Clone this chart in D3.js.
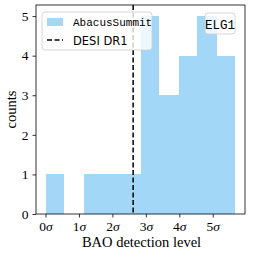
<!DOCTYPE html>
<html><head><meta charset="utf-8">
<script src="https://cdn.jsdelivr.net/npm/d3@7"></script>
<style>body{margin:0;background:#fff}svg{display:block}</style>
</head><body><svg id="c" width="253" height="257"></svg>
<script>
const binEdges = [0,0.568,1.136,1.704,2.272,2.84,3.408,3.976,4.544,5.112,5.68];
const counts = [1,0,1,1,1,5,3,4,5,4];
const desiDR1 = 2.62;
const xTicks = [0,1,2,3,4,5];
const yTicks = [0,1,2,3,4,5];
const seriesLabel = "AbacusSummit";
const lineLabel = "DESI DR1";
const tracer = "ELG1";

const svg = d3.select("#c");
const L=36,R=245,T=5,B=214;
const x = d3.scaleLinear().domain([-0.284,5.964]).range([L,R]);
const y = d3.scaleLinear().domain([0,5.28]).range([B,T]);
const serif = "'Liberation Serif','DejaVu Serif',serif";
const mono = "'Liberation Mono','DejaVu Sans Mono',monospace";
const barColor = "#a3d7f8";

svg.append("g").attr("shape-rendering","crispEdges").selectAll("rect").data(counts).join("rect")
  .attr("x",(d,i)=>Math.round(x(binEdges[i]))).attr("width",(d,i)=>Math.round(x(binEdges[i+1]))-Math.round(x(binEdges[i])))
  .attr("y",d=>y(d)).attr("height",d=>y(0)-y(d)).attr("fill",barColor);

svg.append("line").attr("x1",x(desiDR1)).attr("x2",x(desiDR1)).attr("y1",T).attr("y2",B)
  .attr("stroke","#000").attr("stroke-width",1.5).attr("stroke-dasharray","5,2.5");

const xa = svg.append("g").attr("transform",`translate(0,${B})`)
  .call(d3.axisBottom(x).tickValues(xTicks).tickSize(3.5).tickPadding(4).tickFormat(d=>d+"σ"));
const ya = svg.append("g").attr("transform",`translate(${L},0)`)
  .call(d3.axisLeft(y).tickValues(yTicks).tickSize(3.5).tickPadding(4).tickFormat(d3.format("d")));
[xa,ya].forEach(a=>{a.select(".domain").remove();a.selectAll("line").attr("stroke","#000").attr("stroke-width",0.8);
  a.selectAll("text").attr("font-family",serif).attr("font-size",13.5).attr("fill","#000");});
xa.selectAll("text").each(function(){const t=d3.select(this);const s=t.text();t.text(s.replace("σ",""));t.append("tspan").attr("font-style","italic").text("σ");});

svg.append("rect").attr("x",L).attr("y",T).attr("width",R-L).attr("height",B-T)
  .attr("fill","none").attr("stroke","#000").attr("stroke-width",0.8);

svg.append("text").attr("x",(L+R)/2+1).attr("y",247).attr("text-anchor","middle")
  .attr("font-family",serif).attr("font-size",14.5).text("BAO detection level");
svg.append("text").attr("transform",`translate(16,${(T+B)/2}) rotate(-90)`).attr("text-anchor","middle")
  .attr("font-family",serif).attr("font-size",14.5).text("counts");

// legend
const lg = svg.append("g");
lg.append("rect").attr("x",42).attr("y",12).attr("width",110).attr("height",38).attr("rx",3)
  .attr("fill","#fff").attr("fill-opacity",0.8).attr("stroke","#ccc").attr("stroke-width",0.8);
lg.append("rect").attr("x",47).attr("y",18).attr("width",16).attr("height",8).attr("fill",barColor);
lg.append("text").attr("x",73).attr("y",26).attr("font-family",mono)
  .attr("font-size",11).text(seriesLabel);
lg.append("line").attr("x1",47).attr("x2",63).attr("y1",40).attr("y2",40).attr("stroke","#000")
  .attr("stroke-width",1.5).attr("stroke-dasharray","5,2.5");
lg.append("text").attr("x",73).attr("y",45).attr("font-family","'DejaVu Sans',sans-serif")
  .attr("font-size",11.5).text(lineLabel);

const tg = svg.append("g");
tg.append("rect").attr("x",205).attr("y",13).attr("width",30).attr("height",21).attr("rx",3)
  .attr("fill","#fff").attr("fill-opacity",0.8).attr("stroke","#ccc").attr("stroke-width",0.8);
tg.append("text").attr("x",220).attr("y",28.5).attr("text-anchor","middle")
  .attr("font-family",mono).attr("font-size",12.5).text(tracer);
</script></body></html>
